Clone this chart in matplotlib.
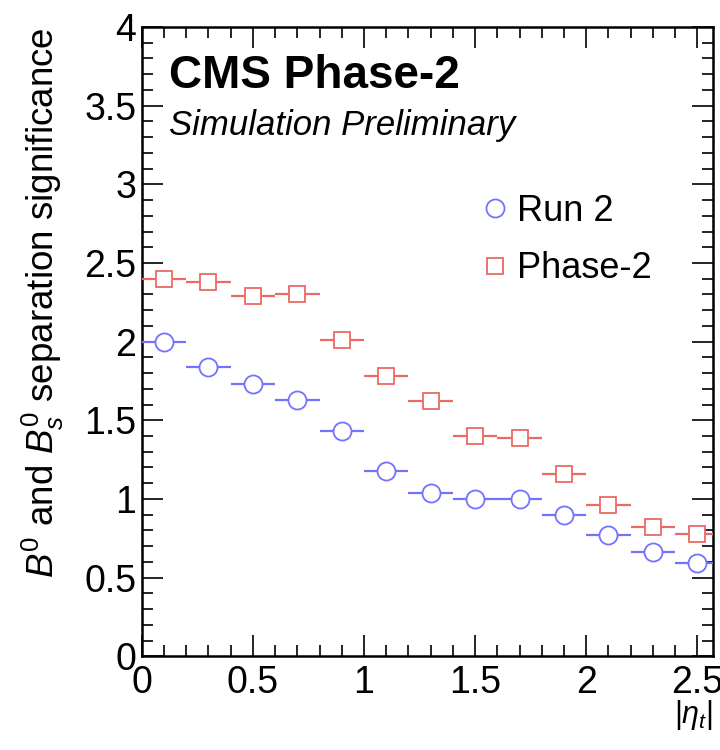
import numpy as np
import matplotlib
matplotlib.use("Agg")
import matplotlib.pyplot as plt
from matplotlib.ticker import MultipleLocator
from matplotlib.lines import Line2D

# bin centres in |eta_t| (bins of 0.2)
eta = [0.1, 0.3, 0.5, 0.7, 0.9, 1.1, 1.3, 1.5, 1.7, 1.9, 2.1, 2.3, 2.5]
bin_half = 0.1

run2 = [2.00, 1.84, 1.73, 1.63, 1.43, 1.18, 1.04, 1.00, 1.00, 0.90, 0.77, 0.66, 0.59]
phase2 = [2.40, 2.38, 2.29, 2.30, 2.01, 1.78, 1.62, 1.40, 1.39, 1.16, 0.96, 0.82, 0.78]

plt.rcParams['font.family'] = ['Liberation Sans', 'DejaVu Sans']
plt.rcParams['mathtext.fontset'] = 'custom'
plt.rcParams['mathtext.rm'] = 'Liberation Sans'
plt.rcParams['mathtext.it'] = 'Liberation Sans:italic'
plt.rcParams['mathtext.bf'] = 'Liberation Sans:bold'

fig = plt.figure(figsize=(7.2, 7.5), dpi=100)
ax = fig.add_axes([0.197, 0.125, 0.793, 0.839])

blue = '#7272ff'
red = '#ea6a66'

ax.errorbar(eta, run2, xerr=bin_half, fmt='o', color=blue, mfc='white', mec=blue,
            ms=13, mew=1.3, elinewidth=1.6, capsize=0, zorder=3)
ax.errorbar(eta, phase2, xerr=bin_half, fmt='s', color=red, mfc='white', mec=red,
            ms=12, mew=1.3, elinewidth=1.6, capsize=0, zorder=3)

ax.set_xlim(0, 2.57)
ax.set_ylim(0, 4)

ax.xaxis.set_major_locator(MultipleLocator(0.5))
ax.xaxis.set_minor_locator(MultipleLocator(0.1))
ax.yaxis.set_major_locator(MultipleLocator(0.5))
ax.yaxis.set_minor_locator(MultipleLocator(0.1))
ax.xaxis.set_major_formatter(plt.FuncFormatter(lambda v, p: f"{v:g}"))
ax.yaxis.set_major_formatter(plt.FuncFormatter(lambda v, p: f"{v:g}"))
ax.tick_params(which='both', direction='in', top=True, right=True, width=1.2, labelsize=27)
ax.tick_params(which='major', length=15)
ax.tick_params(which='minor', length=8)
ax.tick_params(axis='x', pad=6)
ax.tick_params(axis='y', pad=4)
for s in ax.spines.values():
    s.set_linewidth(1.8)

ax.set_ylabel(r"$B^{0}$ and $B^{0}_{s}$ separation significance", fontsize=26.5, loc='top', labelpad=13)
ax.set_xlabel(r"$|\eta_{t}|$", fontsize=22, loc='right', labelpad=-2)

ax.text(0.048, 0.903, "CMS Phase-2", transform=ax.transAxes, fontsize=33, fontweight='bold', va='baseline')
ax.text(0.048, 0.829, "Simulation Preliminary", transform=ax.transAxes, fontsize=25, style='italic', va='baseline')

handles = [
    Line2D([], [], ls='none', marker='o', mfc='white', mec=blue, ms=13, mew=1.3),
    Line2D([], [], ls='none', marker='s', mfc='white', mec=red, ms=12, mew=1.3),
]
ax.legend(handles, ['Run 2', 'Phase-2'], loc='upper left', bbox_to_anchor=(0.597, 0.735),
          frameon=False, fontsize=26, handlelength=0.7, handletextpad=0.25,
          labelspacing=0.62, borderpad=0, borderaxespad=0)

fig.savefig("out.png", dpi=100)
